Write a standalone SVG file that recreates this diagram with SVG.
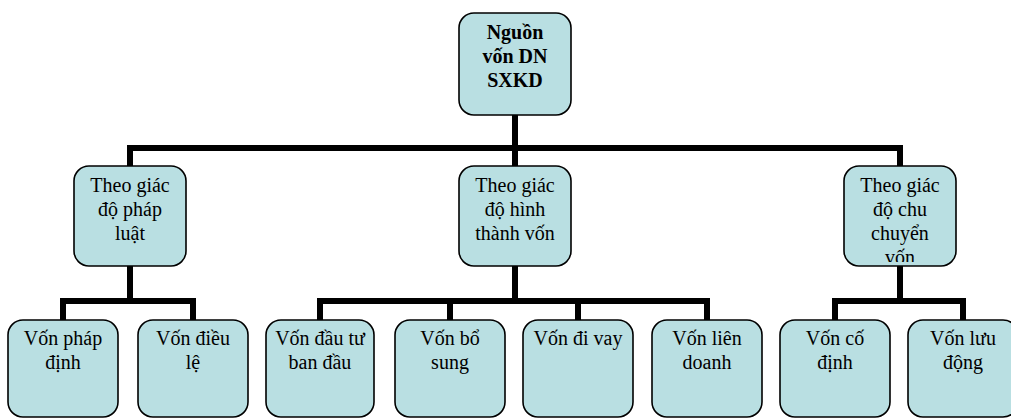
<svg xmlns="http://www.w3.org/2000/svg" width="1011" height="418" viewBox="0 0 1011 418">
<style>
.box{fill:#B9DFE2;stroke:#000;stroke-width:1.6}
.t{font-family:"Liberation Serif","Times New Roman",serif;font-size:20px;fill:#000;text-anchor:middle}
.b{font-weight:bold}
.c{fill:none;stroke:#000;stroke-width:6;stroke-linejoin:miter;stroke-linecap:butt}
</style>
<defs>
<clipPath id="clipR"><rect x="844" y="165" width="112" height="97"/></clipPath>
</defs>
<rect width="1011" height="418" fill="#fff"/>
<g id="connectors">
<path class="c" d="M515 115V148M130 168V148H900V168M515 148V168"/>
<path class="c" d="M130 266V301M63 323V301H193V323"/>
<path class="c" d="M515 266V301M320 323V301H707V323M450 301V323M578 301V323"/>
<path class="c" d="M900 266V301M835 323V301H963V323"/>
</g>
<g id="root">
<rect class="box" x="459" y="13" width="112" height="102" rx="15"/>
<text class="t b" x="515" y="39">Nguồn</text>
<text class="t b" x="515" y="63">vốn DN</text>
<text class="t b" x="515" y="87">SXKD</text>
</g>
<g id="n-phapluat">
<rect class="box" x="74" y="166" width="112" height="100" rx="15"/>
<text class="t" x="130" y="192">Theo giác</text>
<text class="t" x="130" y="216">độ pháp</text>
<text class="t" x="130" y="240">luật</text>
</g>
<g id="n-hinhthanh">
<rect class="box" x="459" y="166" width="112" height="100" rx="15"/>
<text class="t" x="515" y="192">Theo giác</text>
<text class="t" x="515" y="216">độ hình</text>
<text class="t" x="515" y="240">thành vốn</text>
</g>
<g id="n-chuchuyen">
<rect class="box" x="844" y="166" width="112" height="100" rx="15"/>
<g clip-path="url(#clipR)">
<text class="t" x="900" y="192">Theo giác</text>
<text class="t" x="900" y="216">độ chu</text>
<text class="t" x="900" y="240">chuyển</text>
<text class="t" x="900" y="264">vốn</text>
</g>
</g>
<g id="n-phapdinh">
<rect class="box" x="8" y="320" width="110" height="97" rx="15"/>
<text class="t" x="63" y="345">Vốn pháp</text>
<text class="t" x="63" y="369">định</text>
</g>
<g id="n-dieule">
<rect class="box" x="138" y="320" width="110" height="97" rx="15"/>
<text class="t" x="193" y="345">Vốn điều</text>
<text class="t" x="193" y="369">lệ</text>
</g>
<g id="n-dautu">
<rect class="box" x="266" y="320" width="108" height="97" rx="15"/>
<text class="t" x="320" y="345">Vốn đầu tư</text>
<text class="t" x="320" y="369">ban đầu</text>
</g>
<g id="n-bosung">
<rect class="box" x="395" y="320" width="110" height="97" rx="15"/>
<text class="t" x="450" y="345">Vốn bổ</text>
<text class="t" x="450" y="369">sung</text>
</g>
<g id="n-divay">
<rect class="box" x="523" y="320" width="110" height="97" rx="15"/>
<text class="t" x="578" y="345">Vốn đi vay</text>
</g>
<g id="n-liendoanh">
<rect class="box" x="652" y="320" width="110" height="97" rx="15"/>
<text class="t" x="707" y="345">Vốn liên</text>
<text class="t" x="707" y="369">doanh</text>
</g>
<g id="n-codinh">
<rect class="box" x="780" y="320" width="110" height="97" rx="15"/>
<text class="t" x="835" y="345">Vốn cố</text>
<text class="t" x="835" y="369">định</text>
</g>
<g id="n-luudong">
<rect class="box" x="908" y="320" width="110" height="97" rx="15"/>
<text class="t" x="963" y="345">Vốn lưu</text>
<text class="t" x="963" y="369">động</text>
</g>
</svg>
